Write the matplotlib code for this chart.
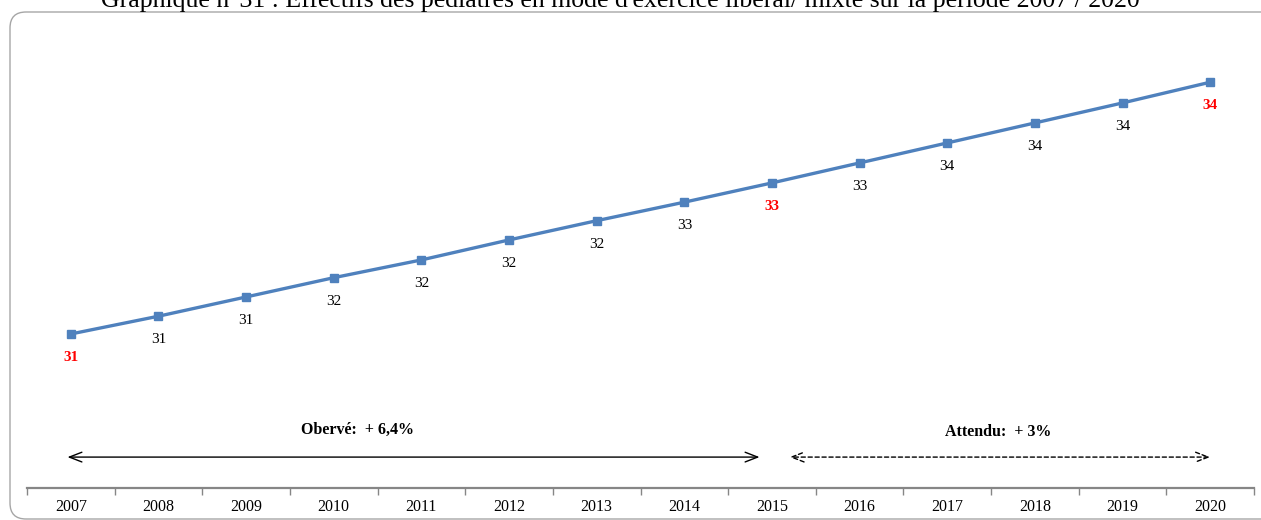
# Effectifs des pediatres - liberal/mixte 2007-2020
import numpy as np
from matplotlib import pyplot as plt
from matplotlib.patches import FancyBboxPatch

plt.rcParams['font.family'] = ['Liberation Serif', 'DejaVu Serif']

# data
years = ['2007', '2008', '2009', '2010', '2011', '2012', '2013',
         '2014', '2015', '2016', '2017', '2018', '2019', '2020']
values = [30.95, 31.19, 31.45, 31.71, 31.95, 32.22, 32.48,
          32.73, 32.99, 33.26, 33.53, 33.80, 34.07, 34.35]
highlight = ['2007', '2015', '2020']
observed_txt = 'Obervé:  + 6,4%'
expected_txt = 'Attendu:  + 3%'
title = "Graphique n°31 : Effectifs des pédiatres en mode d'exercice libéral/ mixte sur la période 2007 / 2020"

W, H = 1261, 520
fig = plt.figure(figsize=(W / 100, H / 100), dpi=100)

# rounded frame around the chart
frame = FancyBboxPatch((10 / W, 1 - 519 / H), 1300 / W, 507 / H,
                       boxstyle='round,pad=0,rounding_size=%f' % (16 / W),
                       transform=fig.transFigure, fill=False,
                       edgecolor='#a6a6a6', linewidth=1.0, mutation_aspect=W / H)
fig.patches.append(frame)

fig.text(0.492, 1 - 1 / H, title, ha='center', va='center', fontsize=18.5, color='black')

ax = fig.add_axes([27 / W, 32 / H, 1227 / W, 448 / H])
x = np.arange(len(years))
ax.plot(x, values, color='#4f81bd', linewidth=2.4, marker='s', markersize=5.5,
        markerfacecolor='#4f81bd', markeredgecolor='#4f81bd', zorder=3)

for i, (yr, v) in enumerate(zip(years, values)):
    if yr in highlight:
        ax.annotate(f'{v:.0f}', (i, v), xytext=(0, -17), textcoords='offset points',
                    ha='center', va='center', fontsize=11, color='red', fontweight='bold')
    else:
        ax.annotate(f'{v:.0f}', (i, v), xytext=(0, -17), textcoords='offset points',
                    ha='center', va='center', fontsize=11, color='black')

ax.set_xlim(-0.5, len(years) - 0.5)
ax.set_ylim(28.87, 34.92)

# category axis, ticks between categories
ax.set_xticks(x)
ax.set_xticklabels(years, fontsize=11.5)
ax.set_xticks(np.arange(-0.5, len(years), 1), minor=True)
ax.tick_params(axis='x', which='major', length=0, pad=8)
ax.tick_params(axis='x', which='minor', length=5, width=1, color='#868686', direction='out')
ax.set_yticks([])
for s in ['top', 'right', 'left']:
    ax.spines[s].set_visible(False)
ax.spines['bottom'].set_color('#868686')
ax.spines['bottom'].set_linewidth(1.6)

# arrows observed / expected
trans = ax.get_xaxis_transform()
ax.annotate('', xy=(-0.07, 0.069), xytext=(7.89, 0.069), xycoords=trans, textcoords=trans,
            arrowprops=dict(arrowstyle='<->,head_length=0.9,head_width=0.35', color='black', lw=1.0))
ax.annotate('', xy=(8.17, 0.069), xytext=(13.03, 0.069), xycoords=trans, textcoords=trans,
            arrowprops=dict(arrowstyle='<->,head_length=0.9,head_width=0.35', color='black', lw=1.0,
                            linestyle=(0, (3, 2))))
ax.text(3.27, 0.129, observed_txt, transform=trans, ha='center', va='center',
        fontsize=11.5, fontweight='bold')
ax.text(10.58, 0.125, expected_txt, transform=trans, ha='center', va='center',
        fontsize=11.5, fontweight='bold')

plt.savefig('out.png', dpi=100)
